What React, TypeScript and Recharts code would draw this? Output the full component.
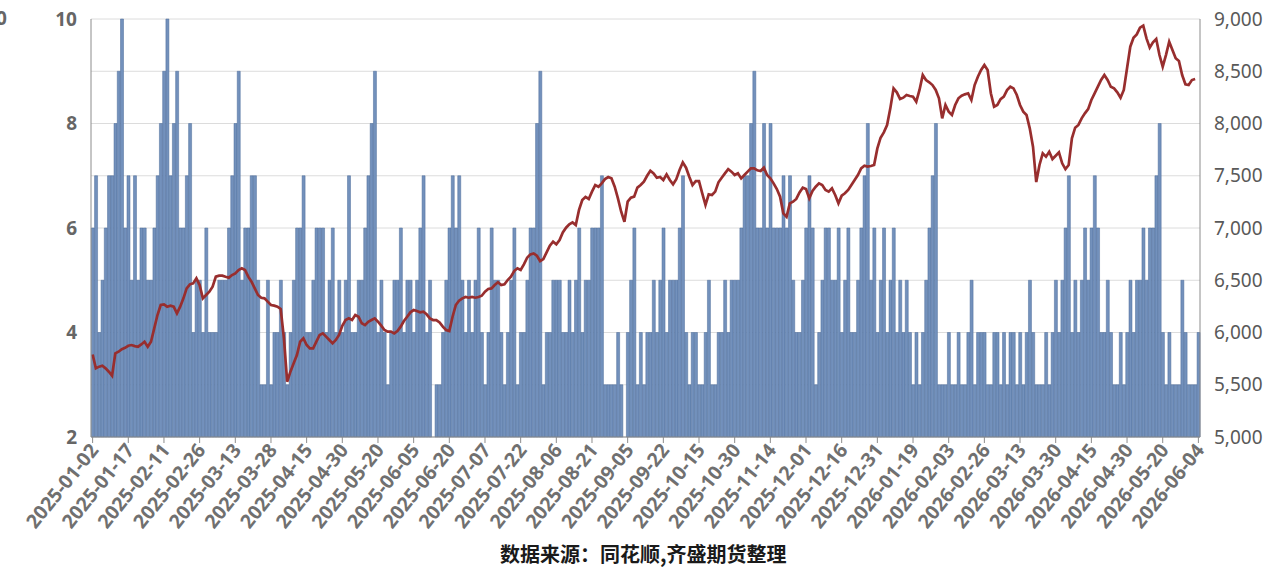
import React from "react";
import {
  Bar,
  CartesianGrid,
  ComposedChart,
  Line,
  XAxis,
  YAxis,
} from "recharts";

// x-axis labels, one every 11 trading days
const tickLabels = [
  "2025-01-02", "2025-01-17", "2025-02-11", "2025-02-26", "2025-03-13", "2025-03-28",
  "2025-04-15", "2025-04-30", "2025-05-20", "2025-06-05", "2025-06-20", "2025-07-07",
  "2025-07-22", "2025-08-06", "2025-08-21", "2025-09-05", "2025-09-22", "2025-10-15",
  "2025-10-30", "2025-11-14", "2025-12-01", "2025-12-16", "2025-12-31", "2026-01-19",
  "2026-02-03", "2026-02-26", "2026-03-13", "2026-03-30", "2026-04-15", "2026-04-30",
  "2026-05-20", "2026-06-04",
];

// bars, left axis (2-10)
const countSeries = [
  6, 7, 4, 5, 6, 7, 7, 8, 9, 10, 6,
  7, 5, 7, 5, 6, 6, 5, 5, 6, 7, 8,
  9, 10, 7, 8, 9, 6, 6, 7, 8, 4, 5,
  5, 4, 6, 4, 4, 4, 5, 5, 5, 6, 7,
  8, 9, 5, 6, 6, 7, 7, 5, 3, 3, 5,
  3, 4, 4, 5, 4, 3, 4, 5, 6, 6, 7,
  4, 4, 5, 6, 6, 6, 4, 5, 6, 4, 5,
  4, 5, 7, 4, 4, 5, 5, 6, 7, 8, 9,
  4, 5, 4, 3, 4, 5, 5, 6, 4, 5, 5,
  4, 5, 6, 7, 4, 5, 2, 3, 3, 4, 5,
  6, 7, 6, 7, 5, 4, 5, 4, 5, 6, 4,
  3, 4, 6, 5, 5, 4, 3, 4, 5, 6, 3,
  4, 4, 5, 6, 6, 8, 9, 3, 4, 4, 5,
  5, 5, 4, 4, 5, 4, 5, 6, 4, 5, 5,
  6, 6, 6, 7, 3, 3, 3, 3, 4, 3, 2,
  4, 5, 6, 3, 4, 3, 4, 4, 5, 4, 5,
  6, 4, 5, 5, 5, 6, 7, 4, 3, 4, 4,
  3, 3, 4, 5, 3, 3, 4, 4, 5, 4, 5,
  5, 5, 6, 7, 7, 8, 9, 6, 6, 8, 6,
  8, 6, 6, 6, 7, 6, 7, 5, 4, 4, 5,
  6, 7, 6, 3, 4, 5, 6, 6, 5, 5, 6,
  4, 5, 6, 4, 4, 5, 6, 7, 8, 5, 6,
  4, 5, 6, 4, 5, 6, 4, 5, 4, 5, 4,
  3, 4, 3, 4, 5, 6, 7, 8, 3, 3, 3,
  4, 3, 3, 4, 3, 3, 4, 5, 3, 4, 4,
  4, 3, 3, 4, 4, 3, 4, 3, 4, 4, 3,
  4, 3, 4, 5, 4, 3, 3, 3, 4, 3, 4,
  5, 4, 5, 6, 7, 4, 5, 4, 5, 6, 5,
  6, 7, 6, 4, 4, 5, 4, 3, 3, 4, 3,
  4, 5, 4, 5, 5, 6, 5, 6, 6, 7, 8,
  4, 3, 4, 3, 3, 3, 5, 4, 3, 3, 3, 4,
];

// line, right axis (5000-9000)
const priceSeries = [
  5790, 5657, 5673, 5682, 5657, 5625, 5587, 5800, 5816, 5841, 5853,
  5873, 5880, 5870, 5864, 5886, 5912, 5864, 5912, 6040, 6167, 6263,
  6269, 6247, 6257, 6247, 6183, 6247, 6327, 6422, 6461, 6470, 6518,
  6454, 6327, 6359, 6391, 6438, 6534, 6544, 6544, 6534, 6525, 6550,
  6566, 6598, 6614, 6598, 6534, 6486, 6422, 6359, 6333, 6327, 6295,
  6263, 6257, 6247, 6225, 5944, 5529, 5625, 5705, 5784, 5912, 5944,
  5880, 5848, 5848, 5912, 5976, 5992, 5960, 5928, 5896, 5928, 5976,
  6065, 6119, 6135, 6119, 6167, 6151, 6088, 6071, 6103, 6119, 6135,
  6103, 6065, 6024, 6008, 6008, 5992, 6014, 6056, 6110, 6151, 6193,
  6215, 6205, 6193, 6199, 6174, 6135, 6119, 6119, 6097, 6056, 6024,
  6014, 6151, 6263, 6304, 6327, 6340, 6333, 6340, 6333, 6340, 6352,
  6391, 6416, 6422, 6454, 6480, 6454, 6461, 6502, 6534, 6588, 6614,
  6598, 6652, 6716, 6748, 6757, 6735, 6684, 6703, 6767, 6831, 6869,
  6844, 6885, 6958, 7003, 7035, 7054, 7029, 7173, 7268, 7297, 7278,
  7348, 7411, 7395, 7427, 7468, 7488, 7475, 7395, 7284, 7156, 7060,
  7252, 7290, 7300, 7386, 7411, 7443, 7500, 7548, 7523, 7481, 7488,
  7459, 7513, 7459, 7418, 7468, 7555, 7628, 7577, 7491, 7411, 7449,
  7449, 7332, 7220, 7322, 7316, 7348, 7437, 7481, 7523, 7564, 7539,
  7507, 7523, 7475, 7507, 7539, 7571, 7571, 7552, 7545, 7577, 7507,
  7475, 7427, 7373, 7300, 7140, 7108, 7236, 7252, 7278, 7341, 7386,
  7373, 7284, 7354, 7395, 7427, 7411, 7364, 7348, 7379, 7316, 7236,
  7310, 7332, 7364, 7411, 7459, 7507, 7571, 7596, 7587, 7593, 7603,
  7762, 7864, 7915, 7985, 8145, 8336, 8298, 8235, 8247, 8273, 8263,
  8257, 8209, 8321, 8464, 8416, 8394, 8368, 8321, 8241, 8049, 8177,
  8113, 8081, 8177, 8241, 8266, 8279, 8289, 8225, 8368, 8448, 8512,
  8560, 8512, 8289, 8161, 8177, 8234, 8257, 8320, 8352, 8336, 8273,
  8177, 8113, 8081, 7954, 7778, 7440, 7603, 7714, 7683, 7730, 7660,
  7692, 7724, 7619, 7564, 7603, 7858, 7960, 7986, 8049, 8097, 8138,
  8225, 8289, 8352, 8416, 8464, 8416, 8352, 8336, 8298, 8247, 8321,
  8528, 8735, 8821, 8853, 8917, 8936, 8815, 8726, 8777, 8809, 8655,
  8544, 8655, 8783, 8703, 8624, 8598, 8464, 8375, 8368, 8416, 8426, null,
];

const leftTicks = [2, 4, 6, 8, 10];
const rightTicks = [5000, 5500, 6000, 6500, 7000, 7500, 8000, 8500, 9000];

const data = countSeries.map((count, i) => ({ i, count, price: priceSeries[i] }));

const numFont = "'Noto Sans', 'DejaVu Sans', sans-serif";

const DateTick = ({ x, y, payload }: any) => {
  const label = tickLabels[Math.round(payload.value / 11)] ?? "";
  return (
    <text
      x={x}
      y={y}
      dy={9}
      textAnchor="end"
      transform={`rotate(-51, ${x}, ${y})`}
      fontSize={19.5}
      fontWeight={700}
      fill="#707070"
      fontFamily={numFont}
    >
      {label}
    </text>
  );
};

export default function App() {
  return (
    <div style={{ position: "relative", width: 1272, height: 570, overflow: "hidden", background: "#fff" }}>
      <style>{"body{margin:0}"}</style>
      {/* clipped label of a neighbouring axis at the left edge */}
      <div
        style={{
          position: "absolute",
          left: -33,
          top: 5,
          width: 40,
          textAlign: "right",
          fontFamily: numFont,
          fontWeight: 700,
          fontSize: 19,
          color: "#666",
        }}
      >
        10
      </div>
      <ComposedChart
        width={1272}
        height={570}
        data={data}
        margin={{ top: 19, right: 0, bottom: 28, left: 0 }}
        barCategoryGap="10%"
      >
        <CartesianGrid yAxisId="right" vertical={false} stroke="#dcdcdc" />
        <XAxis
          dataKey="i"
          interval={10}
          height={105}
          tickSize={6}
          tickLine={{ stroke: "#8c8c8c" }}
          axisLine={{ stroke: "#8c8c8c" }}
          tick={<DateTick />}
        />
        <YAxis
          yAxisId="left"
          width={91}
          domain={[2, 10]}
          ticks={leftTicks}
          tickLine={false}
          tickMargin={8}
          axisLine={{ stroke: "#8c8c8c" }}
          tick={{ fontSize: 19, fontWeight: 700, fill: "#666", fontFamily: numFont }}
        />
        <YAxis
          yAxisId="right"
          orientation="right"
          width={72}
          domain={[5000, 9000]}
          ticks={rightTicks}
          tickLine={false}
          tickMargin={8}
          axisLine={{ stroke: "#8c8c8c" }}
          tickFormatter={(v: number) => v.toLocaleString("en-US")}
          tick={{ fontSize: 19, fill: "#595959", fontFamily: numFont }}
        />
        <Bar
          yAxisId="left"
          dataKey="count"
          fill="#7391bc"
          stroke="#4b6b98"
          strokeWidth={0.5}
          isAnimationActive={false}
        />
        <Line
          yAxisId="right"
          dataKey="price"
          type="linear"
          stroke="#982e2e"
          strokeWidth={2.7}
          dot={false}
          isAnimationActive={false}
        />
      </ComposedChart>
      <div
        style={{
          position: "absolute",
          left: 500,
          top: 541,
          whiteSpace: "nowrap",
          fontFamily: "'Noto Sans CJK SC', sans-serif",
          fontWeight: 700,
          fontSize: 20,
          lineHeight: "26px",
          color: "#1a1a1a",
        }}
      >
        数据来源：同花顺,齐盛期货整理
      </div>
    </div>
  );
}
